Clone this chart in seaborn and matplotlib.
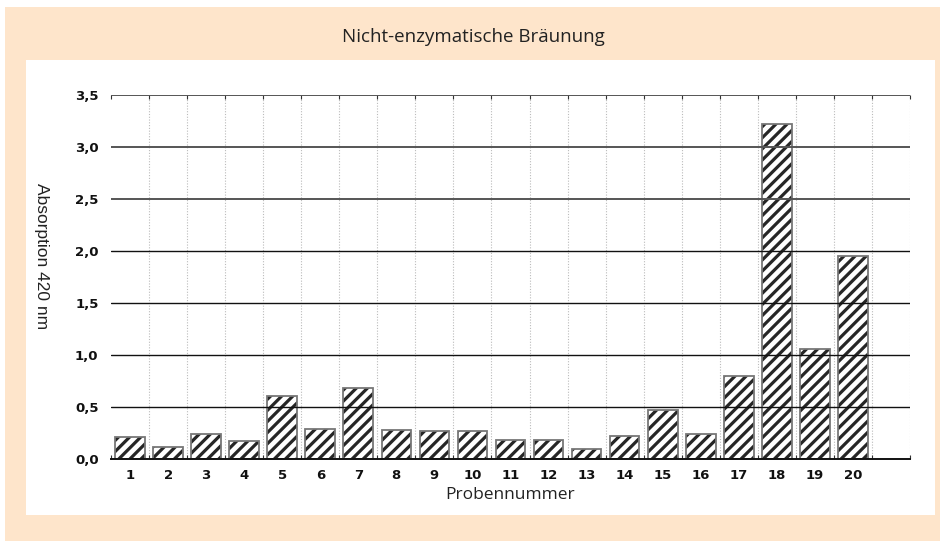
import numpy as np
import pandas as pd
import matplotlib
matplotlib.use("Agg")
import matplotlib.pyplot as plt
from matplotlib.patches import Rectangle
from matplotlib.ticker import FuncFormatter, MultipleLocator, FixedLocator
import seaborn as sns

# data
proben = [str(i) for i in range(1, 21)]
absorption = [0.21, 0.12, 0.24, 0.17, 0.61, 0.29, 0.68, 0.28, 0.27, 0.27,
              0.18, 0.18, 0.10, 0.22, 0.47, 0.24, 0.80, 3.22, 1.06, 1.95]

title = "Nicht-enzymatische Bräunung"
xlabel = "Probennummer"
ylabel = "Absorption 420 nm"

df = pd.DataFrame({"Probe": proben, "Absorption": absorption})

sns.set_style("white")
plt.rcParams["font.family"] = ["DejaVu Sans"]
plt.rcParams["hatch.linewidth"] = 2.3

W, H = 946, 547
fig = plt.figure(figsize=(W / 100, H / 100), dpi=100, facecolor="white")

# peach frame and white inner panel
fig.patches.append(Rectangle((5 / W, 1 - 541 / H), 935 / W, 534 / H,
                             transform=fig.transFigure, facecolor="#FEE5CB",
                             edgecolor="none", zorder=-2))
fig.patches.append(Rectangle((26 / W, 1 - 515 / H), 909 / W, 455 / H,
                             transform=fig.transFigure, facecolor="white",
                             edgecolor="none", zorder=-1))

ax = fig.add_axes([111 / W, 1 - 459 / H, (910 - 111) / W, (459 - 95) / H])
ax.set_facecolor("none")

# hatched bars (hatch takes the edge colour), outline added separately
sns.barplot(data=df, x="Probe", y="Absorption", ax=ax, color="white",
            width=0.78, edgecolor="#262626", linewidth=0, zorder=2)
for p in list(ax.patches):
    p.set_hatch("///")
    ax.add_patch(Rectangle(p.get_xy(), p.get_width(), p.get_height(),
                           fill=False, edgecolor="#777777", lw=1.3, zorder=2.5))

ax.set_xlim(-0.5, 20.5)
ax.set_ylim(0, 3.5)

# horizontal grid, drawn over the bars
ax.yaxis.set_major_locator(MultipleLocator(0.5))
ax.yaxis.set_major_formatter(FuncFormatter(lambda v, _: f"{v:.1f}".replace(".", ",")))
for v in np.arange(0.5, 3.51, 0.5):
    ax.axhline(v, color="#111111" if v < 2.4 else "#555555",
               lw=1.0 if v < 2.4 else 1.4, zorder=3)

# dotted vertical grid at category boundaries
bounds = np.arange(0.5, 20.6, 1.0)
for b in bounds:
    ax.axvline(b, color="#bbbbbb", lw=0.8, ls=(0, (1, 1.5)), zorder=0)

ax.xaxis.set_minor_locator(FixedLocator(np.arange(-0.5, 20.6, 1.0)))
ax.tick_params(axis="x", which="minor", direction="in", length=3, width=0.8,
               color="#333333", top=True, bottom=True)
ax.tick_params(axis="x", which="major", length=0, pad=7)
ax.tick_params(axis="y", which="major", length=0, pad=9)

for s in ["left", "right", "top"]:
    ax.spines[s].set_visible(False)
ax.spines["bottom"].set_color("#111111")
ax.spines["bottom"].set_linewidth(1.4)
ax.spines["bottom"].set_zorder(4)

for lab in ax.get_xticklabels() + ax.get_yticklabels():
    lab.set_fontweight("bold")
    lab.set_fontsize(9.5)
    lab.set_color("#111111")

ax.set_xlabel(xlabel, fontsize=12.5, color="#222222", labelpad=4,
              family=["Open Sans", "DejaVu Sans"])
ax.set_ylabel("")
fig.text(41 / W, 1 - 256 / H, ylabel, rotation=270, ha="center", va="center",
         fontsize=12.5, color="#222222", family=["Liberation Sans", "DejaVu Sans"])

fig.text(473 / W, 1 - 37 / H, title, ha="center", va="center", fontsize=13.5,
         color="#222222", family=["Open Sans", "DejaVu Sans"])

fig.savefig("out.png", dpi=100, facecolor="white")
